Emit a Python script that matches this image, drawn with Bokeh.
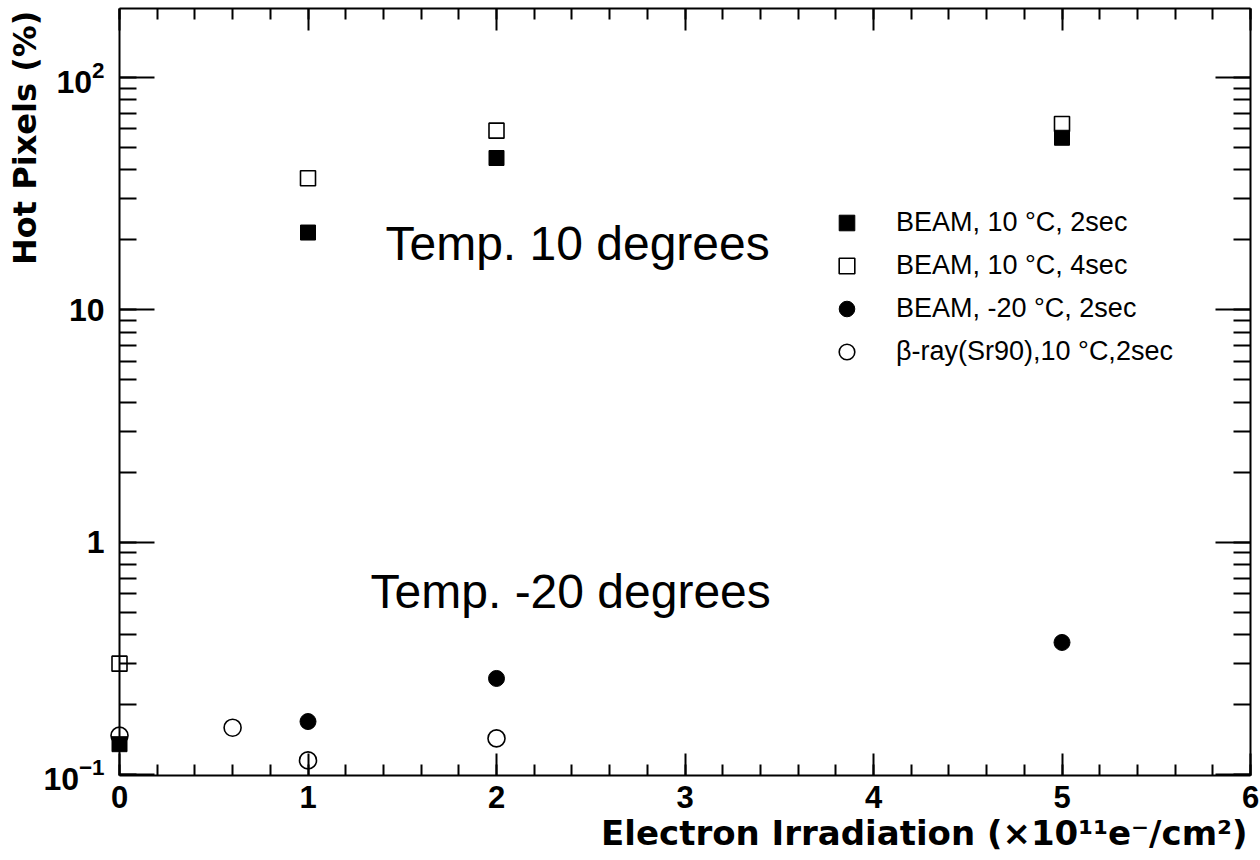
import math
from bokeh.plotting import figure
from bokeh.models import (Range1d, LogAxis, LinearAxis, LogTicker, SingleIntervalTicker,
                          LogTickFormatter, Label, Legend, LegendItem, Title)
from bokeh.embed import file_html
from bokeh.resources import INLINE

# ---------------- data ----------------
irr_beam10_2s = [0, 1, 2, 5]
hot_beam10_2s = [0.135, 21.5, 45.0, 55.0]

irr_beam10_4s = [0, 1, 2, 5]
hot_beam10_4s = [0.30, 36.8, 59.0, 63.0]

irr_beam_m20_2s = [1, 2, 5]
hot_beam_m20_2s = [0.169, 0.259, 0.370]

irr_beta_10_2s = [0, 0.6, 1, 2]
hot_beta_10_2s = [0.147, 0.159, 0.115, 0.143]

series_labels = ["BEAM, 10 \u00b0C, 2sec", "BEAM, 10 \u00b0C, 4sec",
                 "BEAM, -20 \u00b0C, 2sec", "\u03b2-ray(Sr90),10 \u00b0C,2sec"]

# y ticks whose label is written plainly (ROOT style); others keep 10^n form
y_plain_ticks = {1.0: "1", 10.0: "10"}

x_title = "Electron Irradiation (\u00d710\u00b9\u00b9e\u207b/cm\u00b2)"
y_title = "Hot Pixels (%)"
annotations = ["Temp. 10 degrees", "Temp. -20 degrees"]

# ---------------- figure ----------------
FONT = "Liberation Sans"
TITLE_FONT = "DejaVu Sans"
X_MIN, X_MAX = 0, 6
Y_MIN, Y_MAX = 0.099, 198
PAD = 10 * 6 / 1131.0

p = figure(width=1260, height=860, output_backend="svg", toolbar_location=None,
           x_range=Range1d(X_MIN - PAD, X_MAX), y_range=Range1d(Y_MIN, Y_MAX),
           y_axis_type="log", x_axis_location=None, y_axis_location=None,
           min_border_left=109, min_border_right=10, min_border_top=8, min_border_bottom=85)
p.outline_line_color = None
p.grid.visible = False
p.background_fill_color = "white"
p.border_fill_color = "white"

TITLE_PROPS = Title.properties()


def hide_labels(ax):
    ax.major_label_text_font_size = "1px"
    ax.major_label_text_alpha = 0
    ax.major_label_standoff = 0


def common(ax):
    ax.axis_line_width = 2
    ax.axis_line_color = "black"
    ax.major_tick_line_width = 2
    ax.minor_tick_line_width = 2
    ax.major_tick_out = 0
    ax.minor_tick_out = 0


def style_x(ax):
    common(ax)
    ax.bounds = (X_MIN, X_MAX)
    ax.major_tick_in = 22
    ax.minor_tick_in = 11


def style_y(ax):
    common(ax)
    ax.major_tick_in = 35
    ax.minor_tick_in = 17


def set_title_geom(t, offset, standoff):
    if "offset" in TITLE_PROPS:
        t.offset = offset
    if "standoff" in TITLE_PROPS:
        try:
            t.standoff = standoff
        except Exception:
            t.standoff = 0


# bottom axis with tick labels
xb = LinearAxis(ticker=SingleIntervalTicker(interval=1, num_minor_ticks=5))
style_x(xb)
xb.major_label_text_font = FONT
xb.major_label_text_font_style = "bold"
xb.major_label_text_font_size = "31px"
xb.major_label_text_color = "black"
xb.major_label_standoff = 10
p.add_layout(xb, "below")

xt = LinearAxis(ticker=SingleIntervalTicker(interval=1, num_minor_ticks=5))
style_x(xt)
hide_labels(xt)
p.add_layout(xt, "above")

# left: label-only axis at the frame edge (labels, no line / ticks)
ylab = LogAxis(ticker=LogTicker(num_minor_ticks=10), formatter=LogTickFormatter())
ylab.axis_line_color = None
ylab.major_tick_line_color = None
ylab.minor_tick_line_color = None
ylab.major_tick_in = 0
ylab.major_tick_out = 0
ylab.minor_tick_in = 0
ylab.minor_tick_out = 0
ylab.major_label_overrides = y_plain_ticks
ylab.major_label_text_font = FONT
ylab.major_label_text_font_style = "bold"
ylab.major_label_text_font_size = "32px"
ylab.major_label_text_color = "black"
ylab.major_label_standoff = 5
p.add_layout(ylab, "left")

# left: line + ticks axis fixed at x = 0
yl = LogAxis(ticker=LogTicker(num_minor_ticks=10), fixed_location=0)
style_y(yl)
hide_labels(yl)
p.add_layout(yl, "left")

yr = LogAxis(ticker=LogTicker(num_minor_ticks=10))
style_y(yr)
hide_labels(yr)
p.add_layout(yr, "right")

# axis titles (right / top aligned, ROOT style)
tx = Title(text=x_title, align="right", text_font=TITLE_FONT, text_font_style="bold",
           text_font_size="34px", text_color="black")
set_title_geom(tx, 3, 0)
p.add_layout(tx, "below")

ty = Title(text=y_title, align="right", text_font=TITLE_FONT, text_font_style="bold",
           text_font_size="32px", text_color="black")
set_title_geom(ty, 2, -7)
p.add_layout(ty, "left")

# ---------------- markers ----------------
r1 = p.scatter(irr_beam10_2s, hot_beam10_2s, marker="square", size=15,
               fill_color="black", line_color="black", line_width=1)
r2 = p.scatter(irr_beam10_4s, hot_beam10_4s, marker="square", size=15,
               fill_alpha=0, line_color="black", line_width=1.6)
r3 = p.scatter(irr_beam_m20_2s, hot_beam_m20_2s, marker="circle", size=16,
               fill_color="black", line_color="black", line_width=1)
r4 = p.scatter(irr_beta_10_2s, hot_beta_10_2s, marker="circle", size=17,
               fill_alpha=0, line_color="black", line_width=1.6)

legend = Legend(items=[LegendItem(label=series_labels[0], renderers=[r1]),
                       LegendItem(label=series_labels[1], renderers=[r2]),
                       LegendItem(label=series_labels[2], renderers=[r3]),
                       LegendItem(label=series_labels[3], renderers=[r4])],
                location=(718, 402), orientation="vertical",
                border_line_color=None, background_fill_alpha=0,
                padding=0, margin=0, spacing=0,
                glyph_width=39, glyph_height=43, label_height=43,
                label_standoff=30, label_text_font=FONT,
                label_text_font_size="27px", label_text_color="black")
p.add_layout(legend, "center")

# ---------------- annotations ----------------
p.add_layout(Label(x=1.411, y=16.5, y_offset=16, text=annotations[0], text_align="left",
                   text_baseline="alphabetic", text_font=FONT,
                   text_font_size="48px", text_color="black"))
p.add_layout(Label(x=1.332, y=0.524, y_offset=16, text=annotations[1], text_align="left",
                   text_baseline="alphabetic", text_font=FONT,
                   text_font_size="48px", text_color="black"))

open("out.html", "w").write(file_html(p, INLINE))
